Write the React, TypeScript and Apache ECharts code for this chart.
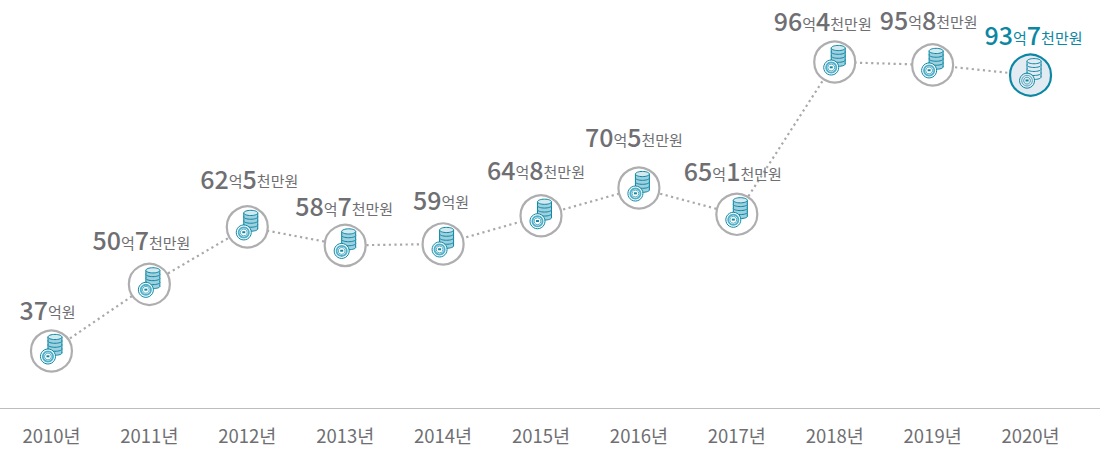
import React, { useEffect, useRef } from "react";
import * as echarts from "echarts";

const years = ["2010년","2011년","2012년","2013년","2014년","2015년","2016년","2017년","2018년","2019년","2020년"];
const values = [37, 50.7, 62.5, 58.7, 59, 64.8, 70.5, 65.1, 96.4, 95.8, 93.7];
// label text pieces: 억 part, 천만 part or ""
const billions = ["37","50","62","58","59","64","70","65","96","95","93"];
const tenMillions = ["","7","5","7","","8","5","1","4","8","7"];
// label offsets from the marker
const labelDx = [-4,-8,2,-1,-2,-5,-5,-4,-12,-4,3];
const labelDy = [-42,-45,-49,-40,-45,-47,-52,-44,-42,-46,-41];

const GRAY = "#6f6f73";
const TEAL = "#0b87a3";
const FONT = "'Noto Sans CJK KR','Noto Sans',sans-serif";

function coinIcon(cx: number, cy: number, hi: boolean) {
  const line = TEAL;
  const fill = hi ? "#e3ebf2" : "#9fd0df";
  const dish = hi ? "#e3ebf2" : "#ffffff";
  const x = cx + 3.5, w = 7;
  const children: any[] = [];
  const bottoms = [1, -3, -7, -11];
  bottoms.forEach((t) => {
    children.push({ type: "rect", shape: { x: x - w, y: cy + t - 3, width: 2 * w, height: 4 }, style: { fill, stroke: "none" } });
    children.push({ type: "ellipse", shape: { cx: x, cy: cy + t + 1, rx: w, ry: 2.3 }, style: { fill, stroke: line, lineWidth: 1 } });
    children.push({ type: "rect", shape: { x: x - w + 0.5, y: cy + t - 2, width: 2 * w - 1, height: 3 }, style: { fill, stroke: "none" } });
    children.push({ type: "line", shape: { x1: x - w, y1: cy + t - 3, x2: x - w, y2: cy + t + 1 }, style: { stroke: line, lineWidth: 1 } });
    children.push({ type: "line", shape: { x1: x + w, y1: cy + t - 3, x2: x + w, y2: cy + t + 1 }, style: { stroke: line, lineWidth: 1 } });
  });
  children.push({ type: "ellipse", shape: { cx: x, cy: cy - 14, rx: w, ry: 2.6 }, style: { fill: hi ? "#e3ebf2" : "#d3e9f0", stroke: line, lineWidth: 1 } });
  const px = cx - 3.5, py = cy + 5.5;
  children.push({ type: "circle", shape: { cx: px, cy: py, r: 7.5 }, style: { fill: hi ? "#e3ebf2" : "#ffffff", stroke: line, lineWidth: 1 } });
  if (hi) {
    children.push({ type: "circle", shape: { cx: px, cy: py, r: 5.3 }, style: { fill: "#e3ebf2", stroke: line, lineWidth: 0.7 } });
  } else {
    children.push({ type: "ring", shape: { cx: px, cy: py, r: 6, r0: 4.2 }, style: { fill: "#4fb0cb" } });
  }
  children.push({ type: "circle", shape: { cx: px, cy: py, r: 3.4 }, style: { fill: dish, stroke: line, lineWidth: 0.7 } });
  children.push({ type: "rect", shape: { x: px - 1.5, y: py - 1.2, width: 3, height: 2 }, style: { fill: line } });
  return children;
}

function label(i: number) {
  const hi = i === values.length - 1;
  const n = hi ? "nH" : "n";
  const u = hi ? "uH" : "u";
  return tenMillions[i]
    ? `{${n}|${billions[i]}}{${u}|억}{${n}|${tenMillions[i]}}{${u}|천만원}`
    : `{${n}|${billions[i]}}{${u}|억원}`;
}

export default function App() {
  const ref = useRef<HTMLDivElement>(null);
  useEffect(() => {
    document.body.style.margin = "0";
    const chart = echarts.init(ref.current!, undefined, { renderer: "svg" });
    const rich = {
      n: { fontSize: 25, fontWeight: 500, color: GRAY, fontFamily: FONT, verticalAlign: "bottom" },
      u: { fontSize: 15, color: GRAY, fontFamily: FONT, verticalAlign: "bottom", padding: [0, 0, 2, 0] },
      nH: { fontSize: 25, fontWeight: 500, color: TEAL, fontFamily: FONT, verticalAlign: "bottom" },
      uH: { fontSize: 15, color: TEAL, fontFamily: FONT, verticalAlign: "bottom", padding: [0, 0, 2, 0] },
    };
    chart.setOption({
      animation: false,
      grid: { left: 2.5, top: 0, width: 1077, height: 408 },
      xAxis: {
        type: "category",
        data: years,
        boundaryGap: true,
        axisLine: { show: false },
        axisTick: { show: false },
        axisLabel: { color: GRAY, fontSize: 18.5, fontFamily: FONT, margin: 18 },
      },
      yAxis: { type: "value", min: 25.28, max: 109.15, show: false, splitLine: { show: false } },
      graphic: [
        { type: "line", shape: { x1: 0, y1: 408.5, x2: 1100, y2: 408.5 }, style: { stroke: "#bdbdbd", lineWidth: 1 } },
      ],
      series: [
        {
          type: "line",
          data: values,
          z: 2,
          symbol: "none",
          lineStyle: { color: "#a9a9ab", width: 2.2, type: [2.2, 3.4] },
        },
        {
          type: "custom",
          z: 3,
          data: values.map((v, i) => [i, v]),
          renderItem: (params: any, api: any) => {
            const [cx, cy] = api.coord([api.value(0), api.value(1)]);
            const hi = params.dataIndex === values.length - 1;
            return {
              type: "group",
              children: [
                {
                  type: "circle",
                  shape: { cx, cy, r: 20.5 },
                  style: { fill: hi ? "#e3ebf2" : "#ffffff", stroke: hi ? TEAL : "#aeaeb0", lineWidth: 2.2 },
                },
                ...coinIcon(cx, cy, hi),
              ],
            };
          },
        },
        {
          type: "scatter",
          z: 4,
          symbolSize: 1,
          itemStyle: { color: "rgba(0,0,0,0)", opacity: 1 },
          data: values.map((v, i) => ({
            value: v,
            label: { show: true, position: "inside", offset: [labelDx[i], labelDy[i]], formatter: label(i), rich },
          })),
        },
      ],
    });
    return () => chart.dispose();
  }, []);
  return <div ref={ref} style={{ width: 1118, height: 449 }} />;
}
